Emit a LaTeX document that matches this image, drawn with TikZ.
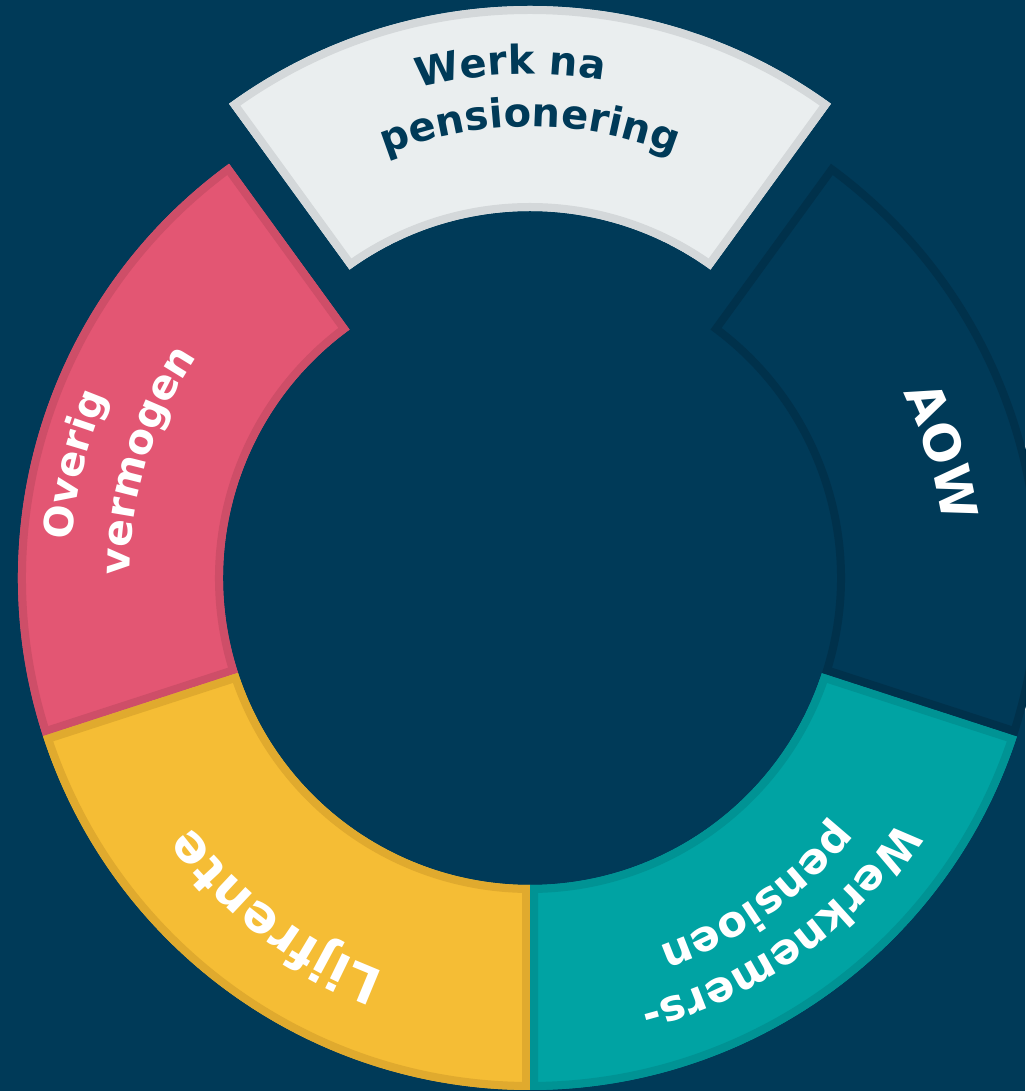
\documentclass[tikz,border=0pt]{standalone}
\usepackage{fontspec}
\setmainfont{DejaVu Sans}
\usetikzlibrary{decorations.text}
\definecolor{navy}{RGB}{0,58,88}
\definecolor{navyline}{RGB}{0,49,75}
\definecolor{greyfill}{RGB}{234,238,239}
\definecolor{greyline}{RGB}{212,216,218}
\definecolor{pinkfill}{RGB}{227,86,115}
\definecolor{pinkline}{RGB}{206,78,104}
\definecolor{yellowfill}{RGB}{245,189,53}
\definecolor{yellowline}{RGB}{224,170,46}
\definecolor{tealfill}{RGB}{0,163,163}
\definecolor{tealline}{RGB}{0,147,148}
% annular sector with an inside border: cx, cy, start, end, fill, border
\newcommand\ringseg[6]{%
  \begin{scope}[shift={(#1,#2)}]
    \clip (#3:512) arc[start angle=#3, end angle=#4, radius=512]
      -- (#4:307) arc[start angle=#4, end angle=#3, radius=307] -- cycle;
    \fill[#5] (-530,-530) rectangle (530,530);
    \draw[#6, line width=16] (#3:512) arc[start angle=#3, end angle=#4, radius=512]
      -- (#4:307) arc[start angle=#4, end angle=#3, radius=307] -- cycle;
  \end{scope}}
% text along a clockwise arc: cx, cy, angle, radius, colour, size, text
\newcommand\arclabel[7]{%
  \path[shift={(#1,#2)}, decorate,
    decoration={text along path, text align=center, text color=#5,
      text={|\fontsize{#6}{#6}\selectfont\bfseries|#7}}]
    ({#3+60}:#4) arc[start angle={#3+60}, end angle={#3-60}, radius=#4];}
\begin{document}
\begin{tikzpicture}[x=1pt,y=1pt]
  \useasboundingbox (0,0) rectangle (1025,1091);
  \fill[navy] (0,0) rectangle (1025,1091);
  % segments
  \ringseg{530}{573}{54}{126}{greyfill}{greyline}
  \ringseg{530}{513}{126}{198}{pinkfill}{pinkline}
  \ringseg{530}{513}{198}{270}{yellowfill}{yellowline}
  \ringseg{530}{513}{270}{342}{tealfill}{tealline}
  \ringseg{530}{513}{-18}{54}{navy}{navyline}
  % labels
  \arclabel{530}{573}{92.5}{444}{navy}{40}{Werk na}
  \arclabel{530}{573}{90}{391}{navy}{40}{pensionering}
  \arclabel{530}{513}{166}{460}{white}{40}{Overig}
  \arclabel{530}{513}{163}{400}{white}{41}{vermogen}
  \arclabel{530}{513}{17}{416}{white}{50}{AOW}
  \arclabel{530}{513}{233}{420}{white}{51}{Lijfrente}
  \arclabel{530}{513}{305.5}{442}{white}{43}{Werknemers-}
  \arclabel{530}{513}{305.5}{390}{white}{43}{pensioen}
\end{tikzpicture}
\end{document}
